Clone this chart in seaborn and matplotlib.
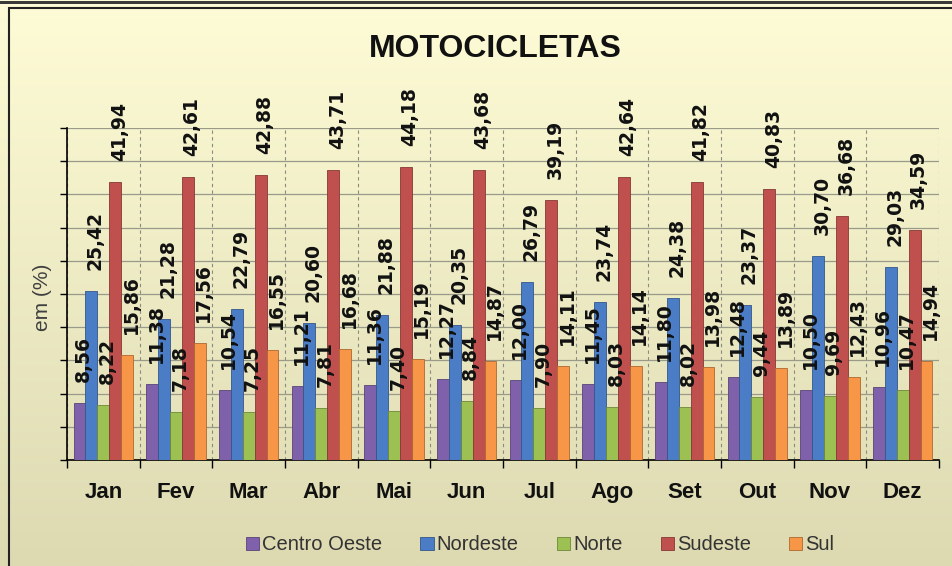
import numpy as np
import pandas as pd
import matplotlib
matplotlib.use("Agg")
import matplotlib.pyplot as plt
import seaborn as sns
from matplotlib.patches import Rectangle
from matplotlib.colors import LinearSegmentedColormap, to_rgb

# dados (%) por regiao
meses = ["Jan", "Fev", "Mar", "Abr", "Mai", "Jun", "Jul", "Ago", "Set", "Out", "Nov", "Dez"]
regioes = ["Centro Oeste", "Nordeste", "Norte", "Sudeste", "Sul"]
centro_oeste = [8.56, 11.38, 10.54, 11.21, 11.36, 12.27, 12.00, 11.45, 11.80, 12.48, 10.50, 10.96]
nordeste = [25.42, 21.28, 22.79, 20.60, 21.88, 20.35, 26.79, 23.74, 24.38, 23.37, 30.70, 29.03]
norte = [8.22, 7.18, 7.25, 7.81, 7.40, 8.84, 7.90, 8.03, 8.02, 9.44, 9.69, 10.47]
sudeste = [41.94, 42.61, 42.88, 43.71, 44.18, 43.68, 39.19, 42.64, 41.82, 40.83, 36.68, 34.59]
sul = [15.86, 17.56, 16.55, 16.68, 15.19, 14.87, 14.11, 14.14, 13.98, 13.89, 12.43, 14.94]
series = [centro_oeste, nordeste, norte, sudeste, sul]

cores = ["#7E61AA", "#4A7DC6", "#9CC152", "#C0504D", "#F79646"]

df = pd.DataFrame({
    "mes": np.tile(meses, len(regioes)),
    "regiao": np.repeat(regioes, len(meses)),
    "valor": np.concatenate(series),
})

sns.set_style("white")
plt.rcParams["font.family"] = ["Liberation Sans", "DejaVu Sans"]

W, H = 953, 566
fig = plt.figure(figsize=(W / 100, H / 100), dpi=100)

# fundo em degrade
bg = fig.add_axes([0, 0, 1, 1], zorder=-10)
grad = np.linspace(0, 1, 256).reshape(-1, 1)
cmap = LinearSegmentedColormap.from_list("bg", ["#FEFCD6", "#DDDAB2"])
bg.imshow(grad, aspect="auto", cmap=cmap, extent=[0, 1, 0, 1], origin="upper")
bg.axis("off")

# moldura
fig.patches.append(Rectangle((0, 1 - 4 / H), 1, 3 / H, transform=fig.transFigure,
                             facecolor="#3a3a3a", edgecolor="none"))
fig.patches.append(Rectangle((9 / W, -0.05), 1.2, 1 - 8 / H + 0.05, transform=fig.transFigure,
                             facecolor="none", edgecolor="#222222", lw=1.5))

ax = fig.add_axes([67 / W, 1 - 460 / H, (939 - 67) / W, (460 - 128) / H])
ax.patch.set_alpha(0)

sns.barplot(data=df, x="mes", y="valor", hue="regiao", palette=cores, width=0.82,
            saturation=1, ax=ax, legend=False, zorder=3)

for cont, cor, serie in zip(ax.containers, cores, series):
    escuro = tuple(c * 0.7 for c in to_rgb(cor))
    for bar, v in zip(cont, serie):
        bar.set_edgecolor(escuro)
        bar.set_linewidth(0.6)
        ax.annotate(f"{v:.2f}".replace(".", ","),
                    (bar.get_x() + bar.get_width() / 2, bar.get_height()),
                    xytext=(4, 21), textcoords="offset pixels", rotation=90,
                    ha="center", va="bottom", fontsize=13.5, fontweight="bold",
                    family="DejaVu Sans", color="#111111", zorder=5)

ax.set_ylim(0, 50)
ax.set_xlim(-0.5, 11.5)
ax.set_yticks(np.arange(0, 51, 5))
ax.set_yticklabels([])
ax.set_xticks(np.arange(-0.5, 12, 1), minor=True)
ax.tick_params(axis="y", length=5, width=1, color="black", direction="out", left=True)
ax.tick_params(axis="x", which="major", length=0, pad=16)
ax.tick_params(axis="x", which="minor", length=6, width=1, color="black", direction="out", bottom=True)
for lbl in ax.get_xticklabels():
    lbl.set_fontsize(16)
    lbl.set_fontweight("bold")
    lbl.set_color("#111111")

ax.grid(axis="y", which="major", color="#9a9a8a", lw=0.9, zorder=0)
ax.grid(axis="x", which="minor", color="#8a8a80", lw=0.8, ls=(0, (3, 3)), zorder=0)
ax.set_axisbelow(True)
ax.set_xlabel("")
ax.set_ylabel("")
for s in ["top", "right"]:
    ax.spines[s].set_visible(False)
for s in ["left", "bottom"]:
    ax.spines[s].set_color("black")
    ax.spines[s].set_linewidth(1.2)

fig.text(495 / W, 1 - 49 / H, "MOTOCICLETAS", ha="center", va="center",
         fontsize=23, fontweight="bold", color="#111111")
fig.text(43 / W, 1 - 297 / H, "em (%)", rotation=90, ha="center", va="center",
         fontsize=15, color="#404040")

handles = [Rectangle((0, 0), 1, 1, facecolor=c, edgecolor=tuple(x * 0.7 for x in to_rgb(c)), lw=0.6)
           for c in cores]
leg = fig.legend(handles, regioes, loc="center", bbox_to_anchor=(540 / W, 1 - 545 / H),
                 ncol=5, frameon=False, fontsize=14.5, handlelength=0.65, handleheight=0.65,
                 handletextpad=0.15, columnspacing=1.9)
for t in leg.get_texts():
    t.set_color("#333333")

fig.savefig("out.png", dpi=100)
